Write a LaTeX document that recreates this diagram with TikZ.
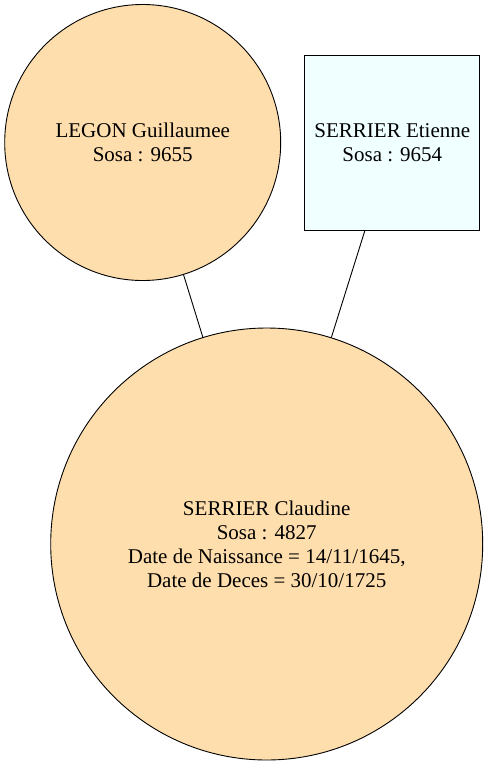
\documentclass[tikz,border=0pt]{standalone}
\usepackage{fontspec}
\setmainfont{Liberation Serif}
\usetikzlibrary{positioning}
\definecolor{navajo}{HTML}{FFDEAD}
\definecolor{azure}{HTML}{F0FFFF}

\begin{document}
\begin{tikzpicture}[x=1pt, y=-1pt,
  every node/.style={font=\fontsize{21}{24}\selectfont, align=center, inner sep=0pt},
  person/.style={draw=black, line width=0.9pt},
  femme/.style={person, circle, fill=navajo},
  homme/.style={person, rectangle, fill=azure, minimum size=175pt}]
  \useasboundingbox (0,0) rectangle (488,766);

  % Parents
  \node[femme, minimum size=276pt] (legon) at (142.7,142.5) {LEGON Guillaumee\\Sosa : 9655};
  \node[homme] (etienne) at (392.3,142.8) {SERRIER Etienne\\Sosa : 9654};

  % Child
  \node[femme, minimum size=432pt] (claudine) at (266.7,544) {SERRIER Claudine\\Sosa : 4827\\Date de Naissance = 14/11/1645,\\Date de Deces = 30/10/1725};

  % Links
  \draw[line width=0.9pt] (legon) -- (claudine);
  \draw[line width=0.9pt] (etienne) -- (claudine);
\end{tikzpicture}
\end{document}
